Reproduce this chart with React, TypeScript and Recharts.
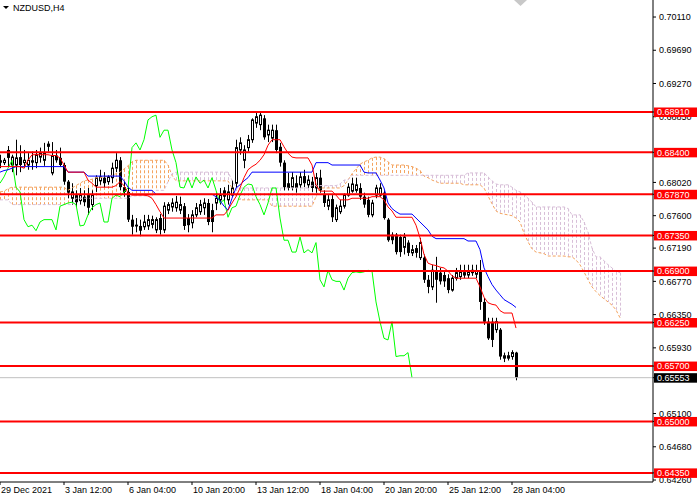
import React from 'react';
import { ComposedChart, Bar, Line, XAxis, YAxis, ReferenceLine } from 'recharts';

const FONT = '"Liberation Sans", Arial, sans-serif';

// H4 bars, index k = bar position
const opens = [
  0.6830, 0.6827, 0.6843, 0.6824, 0.6824, 0.6834, 0.6827, 0.6824, 0.6830, 0.6827,
  0.6834, 0.6830, 0.6851, 0.6814, 0.6836, 0.6833, 0.6824, 0.6803, 0.6782, 0.6786,
  0.6779, 0.6784, 0.6786, 0.6774, 0.6798, 0.6804, 0.6808, 0.6803, 0.6808, 0.6820,
  0.6830, 0.6796, 0.6790, 0.6755, 0.6747, 0.6747, 0.6746, 0.6747, 0.6749, 0.6742,
  0.6757, 0.6742, 0.6767, 0.6771, 0.6770, 0.6767, 0.6772, 0.6757, 0.6751, 0.6761,
  0.6765, 0.6770, 0.6776, 0.6767, 0.6776, 0.6780, 0.6792, 0.6780, 0.6786, 0.6801,
  0.6843, 0.6830, 0.6846, 0.6856, 0.6877, 0.6875, 0.6883, 0.6862, 0.6858, 0.6868,
  0.6847, 0.6827, 0.6801, 0.6796, 0.6801, 0.6799, 0.6810, 0.6799, 0.6803, 0.6795,
  0.6808, 0.6787, 0.6772, 0.6781, 0.6755, 0.6765, 0.6772, 0.6786, 0.6791, 0.6792,
  0.6795, 0.6784, 0.6780, 0.6761, 0.6786, 0.6786, 0.6789, 0.6755, 0.6736, 0.6736,
  0.6733, 0.6720, 0.6726, 0.6713, 0.6719, 0.6707, 0.6707, 0.6679, 0.6670, 0.6689,
  0.6688, 0.6685, 0.6681, 0.6666, 0.6681, 0.6683, 0.6685, 0.6685, 0.6688, 0.6686,
  0.6689, 0.6651, 0.6626, 0.6626, 0.6616, 0.6616, 0.6580, 0.6580, 0.6582, 0.6587,
];
const highs = [
  0.6837, 0.6833, 0.6848, 0.6837, 0.6856, 0.6849, 0.6843, 0.6839, 0.6841, 0.6843,
  0.6846, 0.6852, 0.6854, 0.6853, 0.6843, 0.6846, 0.6827, 0.6805, 0.6801, 0.6792,
  0.6795, 0.6792, 0.6795, 0.6792, 0.6811, 0.6818, 0.6815, 0.6811, 0.6827, 0.6839,
  0.6834, 0.6803, 0.6795, 0.6761, 0.6757, 0.6755, 0.6761, 0.6761, 0.6760, 0.6758,
  0.6762, 0.6777, 0.6777, 0.6782, 0.6785, 0.6784, 0.6776, 0.6762, 0.6767, 0.6776,
  0.6780, 0.6782, 0.6781, 0.6775, 0.6789, 0.6795, 0.6796, 0.6799, 0.6805, 0.6856,
  0.6859, 0.6849, 0.6862, 0.6883, 0.6890, 0.6891, 0.6887, 0.6875, 0.6875, 0.6875,
  0.6852, 0.6830, 0.6814, 0.6815, 0.6811, 0.6815, 0.6818, 0.6811, 0.6809, 0.6814,
  0.6818, 0.6792, 0.6786, 0.6786, 0.6774, 0.6780, 0.6788, 0.6801, 0.6808, 0.6808,
  0.6801, 0.6789, 0.6784, 0.6780, 0.6799, 0.6801, 0.6792, 0.6757, 0.6739, 0.6738,
  0.6736, 0.6738, 0.6729, 0.6723, 0.6723, 0.6732, 0.6711, 0.6685, 0.6698, 0.6708,
  0.6694, 0.6691, 0.6686, 0.6685, 0.6694, 0.6698, 0.6698, 0.6698, 0.6698, 0.6698,
  0.6704, 0.6656, 0.6631, 0.6631, 0.6631, 0.6618, 0.6587, 0.6588, 0.6590, 0.6588,
];
const lows = [
  0.6820, 0.6824, 0.6822, 0.6815, 0.6811, 0.6815, 0.6820, 0.6818, 0.6818, 0.6820,
  0.6827, 0.6823, 0.6841, 0.6811, 0.6827, 0.6822, 0.6799, 0.6782, 0.6774, 0.6771,
  0.6774, 0.6772, 0.6761, 0.6767, 0.6790, 0.6799, 0.6796, 0.6799, 0.6801, 0.6815,
  0.6792, 0.6784, 0.6752, 0.6736, 0.6739, 0.6734, 0.6742, 0.6742, 0.6744, 0.6738,
  0.6736, 0.6738, 0.6762, 0.6765, 0.6765, 0.6762, 0.6742, 0.6739, 0.6744, 0.6758,
  0.6761, 0.6761, 0.6748, 0.6739, 0.6767, 0.6774, 0.6777, 0.6774, 0.6784, 0.6795,
  0.6837, 0.6820, 0.6841, 0.6852, 0.6871, 0.6868, 0.6856, 0.6853, 0.6853, 0.6839,
  0.6822, 0.6792, 0.6792, 0.6792, 0.6789, 0.6795, 0.6796, 0.6795, 0.6790, 0.6789,
  0.6789, 0.6771, 0.6767, 0.6752, 0.6752, 0.6762, 0.6769, 0.6784, 0.6789, 0.6789,
  0.6780, 0.6770, 0.6758, 0.6758, 0.6782, 0.6784, 0.6755, 0.6727, 0.6724, 0.6711,
  0.6708, 0.6711, 0.6709, 0.6709, 0.6707, 0.6704, 0.6675, 0.6662, 0.6666, 0.6650,
  0.6673, 0.6670, 0.6662, 0.6664, 0.6678, 0.6679, 0.6681, 0.6681, 0.6684, 0.6681,
  0.6641, 0.6622, 0.6603, 0.6594, 0.6612, 0.6578, 0.6575, 0.6577, 0.6578, 0.6552,
];
const closes = [
  0.6827, 0.6830, 0.6833, 0.6834, 0.6833, 0.6824, 0.6830, 0.6830, 0.6827, 0.6837,
  0.6839, 0.6839, 0.6847, 0.6836, 0.6830, 0.6824, 0.6803, 0.6789, 0.6790, 0.6777,
  0.6786, 0.6777, 0.6770, 0.6786, 0.6808, 0.6809, 0.6801, 0.6809, 0.6820, 0.6830,
  0.6796, 0.6790, 0.6755, 0.6746, 0.6748, 0.6741, 0.6752, 0.6755, 0.6755, 0.6755,
  0.6742, 0.6772, 0.6774, 0.6776, 0.6777, 0.6774, 0.6747, 0.6748, 0.6761, 0.6770,
  0.6774, 0.6776, 0.6752, 0.6752, 0.6782, 0.6786, 0.6784, 0.6790, 0.6795, 0.6846,
  0.6852, 0.6843, 0.6856, 0.6881, 0.6885, 0.6887, 0.6859, 0.6868, 0.6868, 0.6843,
  0.6827, 0.6796, 0.6795, 0.6808, 0.6795, 0.6809, 0.6801, 0.6805, 0.6795, 0.6808,
  0.6792, 0.6776, 0.6780, 0.6758, 0.6770, 0.6772, 0.6786, 0.6796, 0.6800, 0.6799,
  0.6784, 0.6774, 0.6761, 0.6776, 0.6795, 0.6795, 0.6757, 0.6729, 0.6729, 0.6714,
  0.6714, 0.6733, 0.6713, 0.6717, 0.6713, 0.6726, 0.6679, 0.6670, 0.6691, 0.6679,
  0.6677, 0.6677, 0.6666, 0.6681, 0.6688, 0.6689, 0.6688, 0.6689, 0.6691, 0.6690,
  0.6651, 0.6626, 0.6605, 0.6603, 0.6626, 0.6582, 0.6583, 0.6583, 0.6587, 0.65553,
];

// Ichimoku lines
const tenkan = [
  0.6822, 0.6822, 0.6822, 0.6822, 0.6822, 0.6822, 0.6820, 0.6830, 0.6837, 0.6837,
  0.6837, 0.6837, 0.6837, 0.6836, 0.6836, 0.6833, 0.6824, 0.6815, 0.6815, 0.6815,
  0.6815, 0.6815, 0.6805, 0.6801, 0.6796, 0.6796, 0.6796, 0.6796, 0.6796, 0.6798,
  0.6803, 0.6798, 0.6789, 0.6786, 0.6786, 0.6786, 0.6786, 0.6785, 0.6782, 0.6774,
  0.6765, 0.6757, 0.6757, 0.6757, 0.6757, 0.6757, 0.6757, 0.6757, 0.6757, 0.6757,
  0.6757, 0.6757, 0.6757, 0.6757, 0.6761, 0.6761, 0.6761, 0.6767, 0.6776, 0.6784,
  0.6795, 0.6808, 0.6818, 0.6822, 0.6825, 0.6830, 0.6837, 0.6849, 0.6856, 0.6856,
  0.6856, 0.6847, 0.6839, 0.6834, 0.6833, 0.6833, 0.6833, 0.6833, 0.6824, 0.6799,
  0.6791, 0.6791, 0.6791, 0.6791, 0.6786, 0.6780, 0.6780, 0.6780, 0.6782, 0.6782,
  0.6782, 0.6782, 0.6782, 0.6784, 0.6784, 0.6784, 0.6780, 0.6771, 0.6766, 0.6758,
  0.6758, 0.6758, 0.6758, 0.6758, 0.6748, 0.6732, 0.6711, 0.6700, 0.6698, 0.6697,
  0.6695, 0.6694, 0.6690, 0.6684, 0.6681, 0.6681, 0.6681, 0.6681, 0.6681, 0.6681,
  0.6670, 0.6657, 0.6650, 0.6648, 0.6647, 0.6640, 0.6637, 0.6637, 0.6637, 0.6618,
];
const kijun = [
  0.6815, 0.6817, 0.6818, 0.6820, 0.6822, 0.6822, 0.6822, 0.6822, 0.6822, 0.6822,
  0.6822, 0.6822, 0.6822, 0.6822, 0.6822, 0.6822, 0.6822, 0.6815, 0.6815, 0.6815,
  0.6815, 0.6815, 0.6810, 0.6810, 0.6810, 0.6810, 0.6810, 0.6810, 0.6810, 0.6810,
  0.6810, 0.6804, 0.6796, 0.6792, 0.6792, 0.6792, 0.6792, 0.6792, 0.6792, 0.6787,
  0.6787, 0.6787, 0.6787, 0.6787, 0.6787, 0.6787, 0.6787, 0.6787, 0.6787, 0.6787,
  0.6787, 0.6787, 0.6787, 0.6787, 0.6784, 0.6779, 0.6772, 0.6767, 0.6782, 0.6795,
  0.6799, 0.6804, 0.6808, 0.6815, 0.6815, 0.6815, 0.6815, 0.6815, 0.6815, 0.6815,
  0.6815, 0.6815, 0.6815, 0.6815, 0.6815, 0.6815, 0.6815, 0.6815, 0.6815, 0.6827,
  0.6827, 0.6827, 0.6827, 0.6824, 0.6824, 0.6824, 0.6824, 0.6824, 0.6824, 0.6824,
  0.6824, 0.6815, 0.6814, 0.6814, 0.6814, 0.6805, 0.6795, 0.6776, 0.6769, 0.6765,
  0.6762, 0.6762, 0.6762, 0.6762, 0.6757, 0.6752, 0.6747, 0.6742, 0.6734, 0.6731,
  0.6731, 0.6731, 0.6731, 0.6731, 0.6731, 0.6731, 0.6731, 0.6728, 0.6728, 0.6728,
  0.6717, 0.6694, 0.6683, 0.6673, 0.6666, 0.6660, 0.6654, 0.6651, 0.6648, 0.6644,
];
const chikou = [
  0.6801, 0.6809, 0.6820, 0.6830, 0.6796, 0.6790, 0.6755, 0.6746, 0.6748, 0.6741,
  0.6752, 0.6755, 0.6755, 0.6755, 0.6742, 0.6772, 0.6774, 0.6776, 0.6777, 0.6774,
  0.6747, 0.6748, 0.6761, 0.6770, 0.6774, 0.6776, 0.6752, 0.6752, 0.6782, 0.6786,
  0.6784, 0.6790, 0.6795, 0.6846, 0.6852, 0.6843, 0.6856, 0.6881, 0.6885, 0.6887,
  0.6859, 0.6868, 0.6868, 0.6843, 0.6827, 0.6796, 0.6795, 0.6808, 0.6795, 0.6809,
  0.6801, 0.6805, 0.6795, 0.6808, 0.6792, 0.6776, 0.6780, 0.6758, 0.6770, 0.6772,
  0.6786, 0.6796, 0.6800, 0.6799, 0.6784, 0.6774, 0.6761, 0.6776, 0.6795, 0.6795,
  0.6757, 0.6729, 0.6729, 0.6714, 0.6714, 0.6733, 0.6713, 0.6717, 0.6713, 0.6726,
  0.6679, 0.6670, 0.6691, 0.6679, 0.6677, 0.6677, 0.6666, 0.6681, 0.6688, 0.6689,
  0.6688, 0.6689, 0.6691, 0.6690, 0.6651, 0.6626, 0.6605, 0.6603, 0.6626, 0.6582,
  0.6583, 0.6583, 0.6587, 0.65553,
];
const spanA = [
  0.6790, 0.6791, 0.6794, 0.6796, 0.6796, 0.6796, 0.6796, 0.6796, 0.6796, 0.6796,
  0.6796, 0.6796, 0.6796, 0.6796, 0.6796, 0.6796, 0.6796, 0.6792, 0.6795, 0.6798,
  0.6801, 0.6804, 0.6805, 0.6806, 0.6808, 0.6808, 0.6809, 0.6810, 0.6811, 0.6813,
  0.6815, 0.6819, 0.6823, 0.6828, 0.6830, 0.6830, 0.6830, 0.6830, 0.6830, 0.6830,
  0.6830, 0.6830, 0.6824, 0.6811, 0.6804, 0.6804, 0.6804, 0.6804, 0.6804, 0.6804,
  0.6804, 0.6804, 0.6804, 0.6804, 0.6804, 0.6804, 0.6804, 0.6804, 0.6795, 0.6785,
  0.6780, 0.6780, 0.6780, 0.6780, 0.6780, 0.6780, 0.6780, 0.6780, 0.6772, 0.6772,
  0.6772, 0.6772, 0.6772, 0.6772, 0.6772, 0.6772, 0.6772, 0.6772, 0.6772, 0.6784,
  0.6795, 0.6795, 0.6795, 0.6795, 0.6795, 0.6795, 0.6798, 0.6805, 0.6813, 0.6819,
  0.6825, 0.6828, 0.6830, 0.6833, 0.6834, 0.6834, 0.6832, 0.6828, 0.6824, 0.6824,
  0.6824, 0.6824, 0.6823, 0.6822, 0.6820, 0.6817, 0.6810, 0.6808, 0.6805, 0.6803,
  0.6801, 0.6801, 0.6801, 0.6801, 0.6801, 0.6801, 0.6799, 0.6799, 0.6799, 0.6799,
  0.6799, 0.6795, 0.6785, 0.6775, 0.6766, 0.6763, 0.6762, 0.6761, 0.6760, 0.6757,
  0.6752, 0.6738, 0.6727, 0.6718, 0.6714, 0.6713, 0.6712, 0.6709, 0.6709, 0.6709,
  0.6709, 0.6709, 0.6708, 0.6708, 0.6704, 0.6698, 0.6689, 0.6679, 0.6670, 0.6664,
  0.6659, 0.6655, 0.6651, 0.6647, 0.6641, 0.6631,
];
const spanB = [
  0.6780, 0.6780, 0.6780, 0.6774, 0.6774, 0.6774, 0.6774, 0.6774, 0.6774, 0.6774,
  0.6774, 0.6774, 0.6774, 0.6774, 0.6774, 0.6774, 0.6774, 0.6774, 0.6774, 0.6782,
  0.6782, 0.6782, 0.6782, 0.6782, 0.6782, 0.6782, 0.6782, 0.6782, 0.6782, 0.6782,
  0.6782, 0.6782, 0.6782, 0.6785, 0.6785, 0.6785, 0.6785, 0.6785, 0.6785, 0.6792,
  0.6792, 0.6792, 0.6803, 0.6813, 0.6815, 0.6815, 0.6815, 0.6815, 0.6815, 0.6815,
  0.6815, 0.6815, 0.6815, 0.6815, 0.6815, 0.6815, 0.6815, 0.6815, 0.6805, 0.6795,
  0.6795, 0.6795, 0.6795, 0.6795, 0.6795, 0.6795, 0.6795, 0.6795, 0.6795, 0.6795,
  0.6795, 0.6795, 0.6795, 0.6795, 0.6795, 0.6795, 0.6795, 0.6795, 0.6798, 0.6798,
  0.6798, 0.6798, 0.6798, 0.6798, 0.6798, 0.6800, 0.6805, 0.6805, 0.6811, 0.6811,
  0.6811, 0.6811, 0.6811, 0.6811, 0.6811, 0.6811, 0.6811, 0.6811, 0.6811, 0.6811,
  0.6811, 0.6811, 0.6811, 0.6811, 0.6811, 0.6811, 0.6811, 0.6811, 0.6811, 0.6811,
  0.6811, 0.6811, 0.6811, 0.6811, 0.6811, 0.6811, 0.6811, 0.6814, 0.6814, 0.6814,
  0.6814, 0.6814, 0.6809, 0.6804, 0.6800, 0.6799, 0.6799, 0.6799, 0.6796, 0.6792,
  0.6790, 0.6787, 0.6782, 0.6777, 0.6771, 0.6771, 0.6771, 0.6771, 0.6771, 0.6771,
  0.6771, 0.6771, 0.6769, 0.6761, 0.6761, 0.6761, 0.6752, 0.6739, 0.6719, 0.6708,
  0.6708, 0.6703, 0.6698, 0.6694, 0.6689, 0.6688,
];

const levels = [0.6891, 0.684, 0.6787, 0.6735, 0.669, 0.6625, 0.657, 0.65, 0.6435];
const lastPrice = 0.65553;
const labelTicks = [...levels, lastPrice];
// scale values visible in the picture (0.68430 and 0.65510 sit fully under price tags)
const yTicks = [0.7011, 0.6969, 0.6927, 0.6885, 0.6802, 0.676, 0.6719, 0.6677, 0.6635, 0.6593, 0.651, 0.6468, 0.6426];
const allYTicks = [...yTicks, ...labelTicks];
const xTickIdx = [0, 16, 32, 48, 64, 80, 96, 112, 128];
const xTickLabels = ['29 Dec 2021', '3 Jan 12:00', '6 Jan 04:00', '10 Jan 20:00', '13 Jan 12:00', '18 Jan 04:00', '20 Jan 20:00', '25 Jan 12:00', '28 Jan 04:00'];

const rows = spanA.map((a, k) => {
  const b = spanB[k];
  const has = k < closes.length;
  return {
    k,
    hl: has ? [lows[k], highs[k]] : null,
    o: has ? opens[k] : null,
    c: has ? closes[k] : null,
    tenkan: k < tenkan.length ? tenkan[k] : null,
    kijun: k < kijun.length ? kijun[k] : null,
    chikou: k < chikou.length ? chikou[k] : null,
    a,
    b,
    cloud: [Math.min(a, b), Math.max(a, b)],
  };
});

const Candle = (props: any) => {
  const { x, y, width, height, payload } = props;
  if (!payload || payload.hl == null || x == null || y == null) return null;
  const [lo, hi] = payload.hl;
  const top = Math.min(y, y + height);
  const h = Math.abs(height);
  const cx = Math.round(x + width / 2) + 0.5;
  const toY = (v: number) => (hi === lo ? top : top + ((hi - v) / (hi - lo)) * h);
  const yo = toY(payload.o);
  const yc = toY(payload.c);
  const bt = Math.min(yo, yc);
  const bb = Math.max(yo, yc);
  const bull = payload.c >= payload.o;
  return (
    <g>
      <line x1={cx} x2={cx} y1={top} y2={top + h} stroke="#000" strokeWidth={1} />
      {bull ? (
        <rect x={cx - 1} y={bt} width={2} height={Math.max(bb - bt, 0.5)} fill="#fff" stroke="#000" strokeWidth={1} />
      ) : (
        <rect x={cx - 1.5} y={bt} width={3} height={Math.max(bb - bt, 1)} fill="#000" />
      )}
    </g>
  );
};

const Hatch = (props: any) => {
  const { x, y, width, height, payload } = props;
  if (!payload || x == null || y == null) return null;
  const top = Math.min(y, y + height);
  const h = Math.abs(height);
  const cx = Math.round(x + width / 2) + 0.5;
  const color = payload.a >= payload.b ? '#F4A460' : '#D8BFD8';
  return <line x1={cx} x2={cx} y1={top} y2={top + h} stroke={color} strokeWidth={1} strokeDasharray="3 2" />;
};

const XTick = (props: any) => {
  const { x, y, payload } = props;
  const i = xTickIdx.indexOf(payload.value);
  return (
    <text x={x + 1} y={y} dy="0.71em" fontSize={9} fill="#000" textAnchor="start" fontFamily={FONT}>
      {xTickLabels[i]}
    </text>
  );
};

// price scale: plain ticks first, then the price tags which are drawn over them
const YTick = (props: any) => {
  const { x, y, payload } = props;
  const v = payload.value;
  const isTag = labelTicks.includes(v);
  if (!isTag) {
    return (
      <text x={x} y={y} dy="0.36em" fontSize={9} fill="#000" textAnchor="start" fontFamily={FONT}>
        {v.toFixed(5)}
      </text>
    );
  }
  const bg = v === lastPrice ? '#000' : '#FF0000';
  return (
    <g>
      <rect x={x - 5} y={y - 4.5} width={43} height={9.5} fill={bg} />
      <text x={x - 2} y={y} dy="0.36em" fontSize={9} fill="#fff" textAnchor="start" fontFamily={FONT}>
        {v.toFixed(5)}
      </text>
    </g>
  );
};

export default function App() {
  return (
    <div style={{ position: 'absolute', left: 0, top: 0, width: 700, height: 500, background: '#fff', fontFamily: FONT }}>
      <ComposedChart width={700} height={500} data={rows} margin={{ top: 0, right: 0, bottom: 0, left: 0 }}>
        <XAxis
          dataKey="k"
          type="number"
          domain={[0, 163.25]}
          allowDataOverflow
          ticks={xTickIdx}
          interval={0}
          tick={<XTick />}
          tickSize={3}
          height={18}
          axisLine={{ stroke: '#000' }}
          tickLine={{ stroke: '#000' }}
        />
        <XAxis xAxisId="h" dataKey="k" type="number" domain={[0, 163.25]} allowDataOverflow hide />
        <YAxis
          orientation="right"
          type="number"
          domain={[0.64235, 0.70325]}
          allowDataOverflow
          ticks={allYTicks}
          interval={0}
          width={47}
          tickSize={3}
          tickMargin={3}
          tick={<YTick />}
          axisLine={{ stroke: '#000' }}
          tickLine={{ stroke: '#000' }}
        />
        <Bar dataKey="cloud" xAxisId="h" barSize={3} shape={Hatch} isAnimationActive={false} />
        <Bar dataKey="hl" barSize={3} shape={Candle} isAnimationActive={false} />
        <Line dataKey="a" stroke="#F4A460" strokeWidth={1} strokeDasharray="3 2" dot={false} activeDot={false} isAnimationActive={false} />
        <Line dataKey="b" stroke="#D8BFD8" strokeWidth={1} strokeDasharray="3 2" dot={false} activeDot={false} isAnimationActive={false} />
        <Line dataKey="chikou" stroke="#00FF00" strokeWidth={1} dot={false} activeDot={false} isAnimationActive={false} />
        <Line dataKey="kijun" stroke="#0000FF" strokeWidth={1} dot={false} activeDot={false} isAnimationActive={false} />
        <Line dataKey="tenkan" stroke="#FF0000" strokeWidth={1} dot={false} activeDot={false} isAnimationActive={false} />
        <ReferenceLine y={lastPrice} stroke="#C0C0C0" strokeWidth={1} />
        {levels.map((v) => (
          <ReferenceLine key={v} y={v} stroke="#FF0000" strokeWidth={2} />
        ))}
      </ComposedChart>
      <svg style={{ position: 'absolute', left: 0, top: 0 }} width={560} height={16}>
        <polygon points="3,6 9,6 6,9" fill="#000" />
        <text x={13} y={11} fontSize={9} fill="#000" fontFamily={FONT}>
          NZDUSD,H4
        </text>
        <polygon points="514,0 527,0 520.5,6" fill="#C8C8C8" />
      </svg>
    </div>
  );
}
